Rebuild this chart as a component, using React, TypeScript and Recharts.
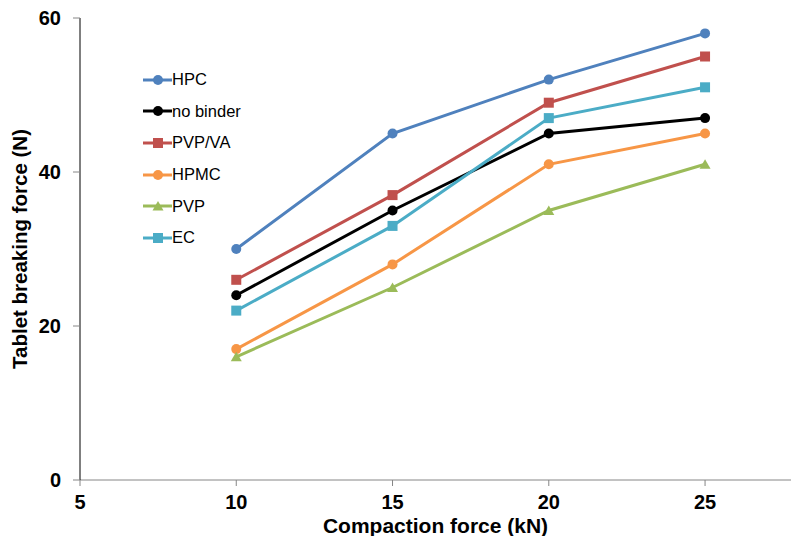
import React from "react";
import { LineChart, Line, XAxis, YAxis } from "recharts";

const force = [10, 15, 20, 25];
const hpc = [30, 45, 52, 58];
const noBinder = [24, 35, 45, 47];
const pvpVa = [26, 37, 49, 55];
const hpmc = [17, 28, 41, 45];
const pvp = [16, 25, 35, 41];
const ec = [22, 33, 47, 51];

const xTicks = [5, 10, 15, 20, 25];
const yTicks = [0, 20, 40, 60];

const data = force.map((f, i) => ({
  force: f,
  hpc: hpc[i],
  noBinder: noBinder[i],
  pvpVa: pvpVa[i],
  hpmc: hpmc[i],
  pvp: pvp[i],
  ec: ec[i],
}));

type Shape = "circle" | "square" | "triangle";

const series: { key: string; name: string; color: string; shape: Shape }[] = [
  { key: "hpc", name: "HPC", color: "#4F81BD", shape: "circle" },
  { key: "noBinder", name: "no binder", color: "#000000", shape: "circle" },
  { key: "pvpVa", name: "PVP/VA", color: "#C0504D", shape: "square" },
  { key: "hpmc", name: "HPMC", color: "#F79646", shape: "circle" },
  { key: "pvp", name: "PVP", color: "#9BBB59", shape: "triangle" },
  { key: "ec", name: "EC", color: "#4BACC6", shape: "square" },
];

const marker = (shape: Shape, cx: number, cy: number, color: string, k?: string) => {
  if (shape === "square")
    return <rect key={k} x={cx - 5} y={cy - 5} width={10} height={10} fill={color} />;
  if (shape === "triangle")
    return (
      <polygon
        key={k}
        points={`${cx},${cy - 5} ${cx + 5.5},${cy + 4.5} ${cx - 5.5},${cy + 4.5}`}
        fill={color}
      />
    );
  return <circle key={k} cx={cx} cy={cy} r={5} fill={color} />;
};

// legend sits inside the plot, so it's drawn as an overlay and doesn't eat chart space
const LegendBox = () => (
  <div style={{ position: "absolute", left: 143, top: 64 }}>
    {series.map((s) => (
      <div key={s.key} style={{ display: "flex", alignItems: "center", height: 31.6 }}>
        <svg width={29} height={12}>
          <line x1={0} y1={6} x2={29} y2={6} stroke={s.color} strokeWidth={3} />
          {marker(s.shape, 15, 6, s.color)}
        </svg>
        <span style={{ fontSize: 16.5, color: "#000" }}>{s.name}</span>
      </div>
    ))}
  </div>
);

const tickStyle = { fontSize: 20, fontWeight: "bold", fill: "#000" };
const titleStyle = { fontSize: 21, fontWeight: "bold", fill: "#000" };

export default function App() {
  return (
    <div
      style={{
        position: "absolute",
        left: 0,
        top: 0,
        width: 791,
        height: 536,
        background: "#fff",
        fontFamily: "'Liberation Sans', Arial, sans-serif",
      }}
    >
      <LineChart
        width={791}
        height={536}
        data={data}
        margin={{ top: 18, right: 0, bottom: 0, left: 0 }}
      >
        <XAxis
          dataKey="force"
          type="number"
          domain={[5, 27.75]}
          ticks={xTicks}
          allowDataOverflow
          height={56}
          stroke="#868686"
          tickSize={6}
          tickMargin={9}
          tick={tickStyle}
          label={{
            value: "Compaction force (kN)",
            position: "insideBottom",
            offset: 3,
            style: titleStyle,
          }}
        />
        <YAxis
          type="number"
          domain={[0, 60]}
          ticks={yTicks}
          width={80}
          stroke="#000"
          tickLine={{ stroke: "#868686" }}
          tickSize={7}
          tickMargin={12}
          tick={tickStyle}
          label={{
            value: "Tablet breaking force (N)",
            angle: -90,
            position: "insideLeft",
            dx: 15,
            style: { ...titleStyle, fontSize: 20.5, textAnchor: "middle" },
          }}
        />
        {series.map((s) => (
          <Line
            key={s.key}
            dataKey={s.key}
            name={s.name}
            stroke={s.color}
            strokeWidth={3}
            isAnimationActive={false}
            dot={(p: any) => marker(s.shape, p.cx, p.cy, s.color, `${s.key}-${p.index}`)}
            activeDot={false}
          />
        ))}
      </LineChart>
      <LegendBox />
    </div>
  );
}
